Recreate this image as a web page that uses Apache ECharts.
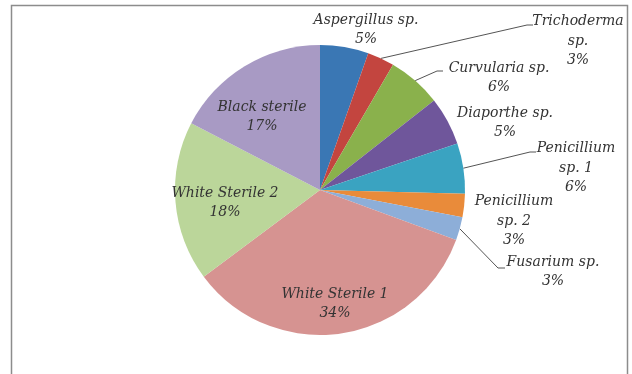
<!DOCTYPE html>
<html>
<head>
<meta charset="utf-8">
<script src="https://cdn.jsdelivr.net/npm/echarts@6/dist/echarts.min.js"></script>
<style>
html,body{margin:0;padding:0;background:#fff;}
#chart{width:632px;height:374px;}
</style>
</head>
<body>
<div id="chart"></div>
<script>
// Data
var categories = ['Aspergillus sp.', 'Trichoderma\nsp.', 'Curvularia sp.', 'Diaporthe sp.', 'Penicillium\nsp. 1', 'Penicillium\nsp. 2', 'Fusarium sp.', 'White Sterile 1', 'White Sterile 2', 'Black sterile'];
var values = [5.4, 3.0, 6.0, 5.4, 5.6, 2.6, 2.6, 34.2, 17.8, 17.4];
var colors = ['#3A77B4', '#C3453F', '#8AB14C', '#6F569B', '#3AA3C1', '#E98B3A', '#8DAED8', '#D69391', '#BBD69A', '#A89AC4'];

// label placement (styling only): block centers and leader line bends
var labelPos = [
  [366, 30], [578, 41], [499, 78], [505, 123], [576, 168],
  [514, 221], [553, 272], [335, 304], [225, 203], [262, 117]
];
var leader = {
  1: [[527, 25], [533, 25]],
  2: [[437, 71], [443, 71]],
  4: [[530, 152], [536, 152]],
  6: [[498, 268], [505, 268]]
};

var chart = echarts.init(document.getElementById('chart'), null, {renderer: 'canvas'});
var data = categories.map(function (c, i) {
  return {
    name: c,
    value: values[i],
    itemStyle: {color: colors[i]},
    labelLine: {show: !!leader[i]}
  };
});

chart.setOption({
  backgroundColor: '#ffffff',
  animation: false,
  graphic: [{
    type: 'rect',
    shape: {x: 11.5, y: 5.5, width: 616, height: 420},
    style: {fill: 'none', stroke: '#8c8c8c', lineWidth: 1.5},
    silent: true
  }],
  series: [{
    type: 'pie',
    center: [320, 190],
    radius: 145,
    startAngle: 90,
    clockwise: true,
    data: data,
    itemStyle: {borderWidth: 0},
    label: {
      show: true,
      position: 'outside',
      formatter: function (p) { return p.name + '\n' + Math.round(p.percent) + '%'; },
      fontFamily: 'DejaVu Serif',
      fontStyle: 'italic',
      fontSize: 14,
      lineHeight: 19.5,
      color: '#333333',
      align: 'center'
    },
    labelLine: {
      lineStyle: {color: '#555555', width: 1},
      length: 10,
      length2: 10
    },
    labelLayout: function (params) {
      var i = params.dataIndex;
      var res = {
        x: labelPos[i][0],
        y: labelPos[i][1],
        align: 'center',
        verticalAlign: 'middle'
      };
      if (leader[i] && params.labelLinePoints) {
        var s = params.labelLinePoints[0];
        res.labelLinePoints = [[s[0], s[1]], leader[i][0], leader[i][1]];
      }
      return res;
    }
  }]
});
</script>
</body>
</html>
